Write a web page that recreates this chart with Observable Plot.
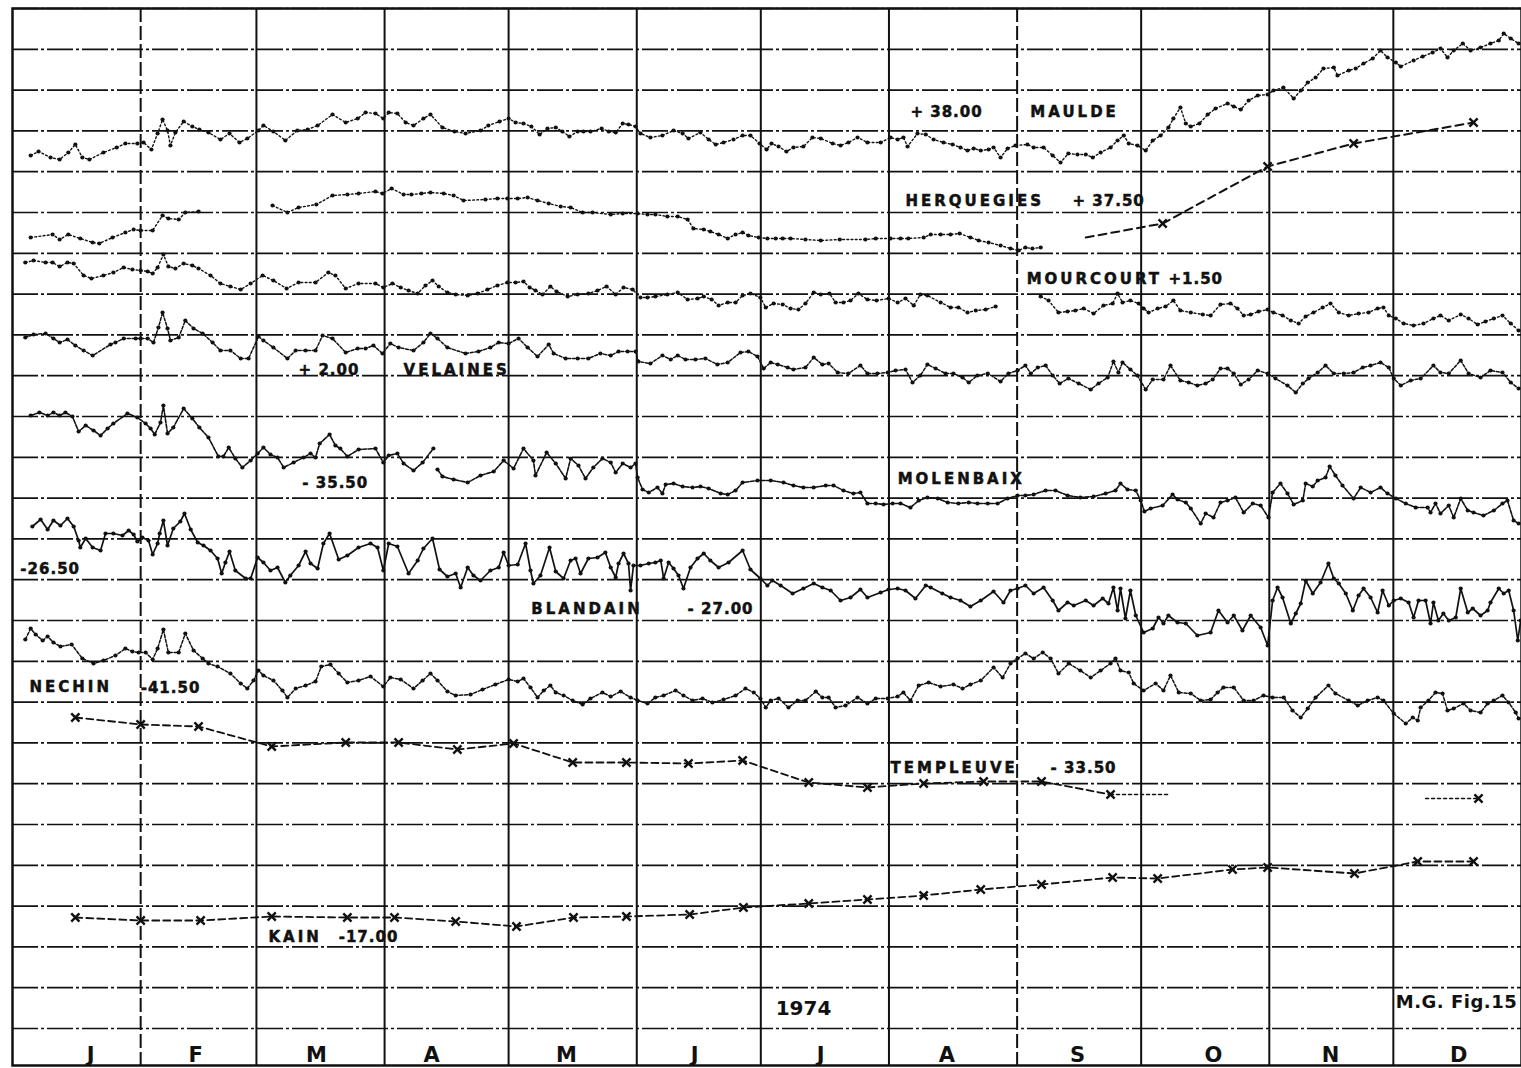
<!DOCTYPE html>
<html><head><meta charset="utf-8">
<script src="https://cdn.jsdelivr.net/npm/d3@7"></script>
<script src="https://cdn.jsdelivr.net/npm/@observablehq/plot@0.6"></script>
<style>body{margin:0;background:#fff}#chart svg{display:block}</style>
</head><body><div id="chart"></div>
<script>
// day of year 1974 (0 = 1 Jan), level in chart units (one grid row = 40.8)
const maulde = [[4.4,873],[6.3,877],[9.2,871],[11.4,869],[13.5,876],[15.2,884],[16.9,871],[18.6,869],[22,876],[25.2,881],[27.3,885],[30.2,885],[31.7,886],[33.6,879],[35.1,895],[36.3,909],[37.5,898],[38.2,883],[39.4,896],[41.4,907],[43.5,902],[45.2,899],[47.4,896],[50.3,889],[52.5,895],[54.9,886],[56.8,890],[59.5,898],[60.7,903],[63.1,897],[66,888],[68.9,898],[71.4,899],[73.8,903],[77.4,914],[80.6,906],[83.5,910],[85.4,916],[87.8,915],[89.7,910],[91,916],[93.1,915],[95.1,906],[97,903],[99.4,910],[101.1,914],[104,901],[106.9,897],[109.6,895],[113.2,898],[115.1,903],[117.8,907],[120,910],[121.7,906],[123.6,905],[125.5,902],[127.5,894],[129.4,900],[131.4,901],[133,897],[134.7,892],[136.7,897],[138.1,897],[139.8,897],[142.5,900],[144.2,897],[145.9,896],[147.6,905],[149,904],[150.7,902],[151.9,895],[154.3,891],[157.2,893],[159.9,898],[162.1,895],[163.5,890],[166.4,896],[168.4,889],[170.1,884],[172,886],[174.4,889],[176.6,893],[178.5,893],[180.7,885],[182.4,879],[183.6,885],[185.3,882],[187.2,877],[188.9,881],[191.3,882],[193.5,891],[195.5,890],[198.4,885],[200.3,883],[202.2,886],[204.4,891],[206.8,886],[210,886],[212.4,891],[214.1,889],[215.5,891],[216.5,882],[218.9,895],[220.9,894],[222.8,889],[225.2,886],[227.4,884],[229.3,881],[231,878],[232.5,880],[234.2,878],[236.1,879],[237.3,881],[239,871],[240.7,880],[242.6,883],[245.5,884],[247,881],[249.4,881],[251.6,873],[253.5,866],[255.4,875],[257.6,874],[259.6,874],[261.3,871],[263.2,876],[265.6,881],[267.3,888],[268.8,893],[270,885],[272.1,883],[274.1,878],[275.8,888],[277.7,893],[279.6,901],[280.8,910],[282.5,921],[283.8,905],[285,902],[287.1,905],[289.1,914],[291,920],[293.9,925],[295.4,922],[297.1,919],[299,928],[301.2,933],[303.6,934],[305,938],[307.4,941],[309.9,930],[311.6,938],[313.3,946],[315.2,951],[317.1,960],[319.6,961],[320.5,953],[323.2,958],[324.9,960],[326.8,965],[329,970],[330.9,978],[332.6,971],[334.6,966],[335.8,962],[338.9,968],[341.1,972],[343.5,976],[345.4,980],[347.1,971],[348.6,978],[350.8,985],[352.7,978],[355.1,981],[357.5,985],[359.5,988],[360.7,995],[362.4,990],[364.3,985]];

const herquegies = [[4.4,791],[9.7,794],[11.4,789],[13.5,794],[16.4,790],[19.4,786],[21,785],[24.2,791],[27.3,796],[29.3,799],[31,798],[33.9,798],[36.3,813],[37.7,810],[40.2,809],[41.8,816],[45,817],[52,null],[62.9,823],[66.5,816],[69.2,821],[73.5,824],[77.4,833],[81,834],[83.7,835],[87.8,837],[89.5,835],[91.7,840],[94.6,834],[96.5,834],[98.9,835],[101.1,836],[104.3,835],[106.7,833],[109.1,828],[114.4,829],[117.3,830],[119.7,830],[122.2,830],[124.6,831],[127,828],[129.7,825],[132.6,822],[135,821],[137.9,816],[140.3,816],[144.7,814],[147.6,815],[151.2,815],[153.6,814],[155.5,814],[158.4,812],[160.9,812],[163.3,809],[164.7,800],[167.2,799],[168.8,797],[170.8,794],[173,790],[174.9,794],[176.6,796],[178,793],[180.5,791],[182.6,790],[184.6,790],[186.3,790],[188.2,790],[191.8,789],[195.5,788],[200.1,789],[206.3,789],[208.8,790],[212.4,790],[214.8,790],[216.7,790],[220.4,791],[222.1,794],[224.5,794],[226.9,794],[229.1,795],[231.7,791],[233.7,788],[236.1,786],[239,783],[241.4,780],[243.4,778],[245,781],[246.7,780],[248.7,781]];
const herquegiesWeekly = [[259.6,791],[278.2,805],[303.6,862],[324.4,885],[353.4,906]];

const mourcourt = [[3.1,766],[5.1,768],[8,766],[9.7,766],[11.4,762],[13.3,766],[14.8,765],[17.2,753],[19.1,750],[22,753],[24.4,756],[26.9,761],[29,759],[31,758],[32.7,757],[33.9,755],[35.1,761],[36.5,774],[37.7,762],[39.4,760],[41.4,765],[43.5,763],[45,760],[47.9,753],[50.3,745],[52.7,742],[55.2,739],[57.6,745],[60.5,753],[63.1,748],[66.3,740],[69.2,746],[73.3,746],[76.4,756],[78.1,753],[80.6,740],[83.7,745],[87.8,745],[89.7,741],[91.9,745],[93.9,741],[95.8,738],[98,735],[99.9,743],[101.6,748],[103.1,742],[105.2,736],[107.2,734],[110.1,733],[112.5,735],[114.9,739],[117.3,743],[119.7,746],[121.7,746],[123.6,747],[125.1,741],[126.5,738],[128.2,734],[130.1,742],[131.6,737],[134.3,732],[136.7,734],[139.3,735],[141.5,738],[143.7,742],[145.9,734],[147.8,741],[150,739],[151.9,731],[153.6,731],[155.5,732],[158.4,734],[160.9,736],[163.3,729],[165.7,730],[167.2,732],[169.1,729],[170.8,723],[173,726],[174.9,726],[176.6,733],[178.5,735],[180.9,731],[182.2,721],[184.1,725],[186.3,724],[188.2,720],[190.1,719],[191.8,725],[193.8,736],[195.5,734],[197.6,735],[199.1,726],[201,726],[202.7,728],[204.6,735],[206.8,729],[209,728],[211.9,730],[214.1,726],[216,730],[218,723],[219.6,734],[221.3,733],[224.5,726],[226.9,721],[228.8,721],[231,716],[233,718],[235.4,719],[237.8,722],[243,null],[248.7,732],[250.6,728],[253,716],[255.2,717],[257.1,718],[259.1,720],[261.5,715],[263.9,723],[266.1,725],[267.3,735],[268.5,726],[270.4,728],[272.4,725],[273.6,720],[274.8,716],[277,720],[278.9,722],[280.8,728],[282.5,718],[285,716],[287.9,714],[289.8,713],[292.2,724],[294.6,725],[296.3,720],[297.8,713],[299.5,714],[301.4,717],[303.6,719],[305,716],[307.2,713],[309.2,708],[311.1,705],[312.8,712],[314.7,716],[316.9,721],[318.8,725],[320.8,716],[323.2,713],[325.6,715],[328,716],[330.2,720],[331.6,721],[332.9,713],[334.6,710],[336.5,705],[338.9,703],[341.3,705],[343.7,710],[345.4,713],[347.4,708],[350.3,714],[352.2,710],[354.4,704],[356.3,707],[358.3,710],[360.4,713],[362.4,705],[364.3,698]];

const velaines = [[3.1,691],[5.1,694],[8,695],[9.9,690],[11.4,686],[13.3,689],[15.2,683],[17.2,678],[19.4,673],[23.7,684],[24.9,686],[26.9,690],[29.8,690],[31,690],[32.7,690],[34.1,686],[35.3,701],[36.3,716],[37.5,700],[38.2,688],[40.2,691],[41.8,708],[43.8,700],[46,695],[48.4,686],[50.3,678],[52.7,678],[55.2,670],[57.1,670],[59.5,692],[60.7,688],[63.1,681],[66.5,670],[68.5,678],[70.9,678],[73.3,678],[75,693],[77.4,690],[80.6,676],[83.5,680],[85.4,680],[87.3,683],[89.5,675],[91.4,685],[93.4,681],[97,678],[99.4,686],[101.1,695],[102.8,690],[105.2,681],[109.6,675],[112.7,677],[115.6,681],[117.6,686],[120,685],[122.4,690],[124.6,681],[127,672],[129.7,684],[130.9,675],[133.8,670],[136.7,670],[139.3,670],[142.2,675],[144.7,673],[146.6,677],[148.8,677],[150.7,677],[151.4,667],[154.3,665],[157.2,673],[159.2,669],[160.9,673],[162.8,669],[165.2,669],[167.6,670],[170.5,664],[173,666],[176.1,676],[178,677],[180.2,672],[181.7,660],[183.4,666],[185.1,664],[187.5,661],[188.9,659],[191.8,661],[193.8,671],[195.9,664],[197.4,665],[199.6,656],[202.2,655],[205.1,663],[206.8,655],[209.2,655],[211.7,656],[213.6,658],[216,659],[217.7,646],[219.6,653],[221.3,664],[223.3,660],[225.7,655],[227.6,655],[229.8,651],[231.3,646],[233.4,653],[235.9,655],[239,647],[240.9,655],[243.1,658],[245,663],[246.3,655],[248,661],[249.9,663],[251.6,653],[253.3,645],[255.4,650],[257.9,645],[260.8,639],[262.7,645],[264.9,651],[266.3,667],[267.5,656],[268.5,666],[270.4,659],[272.1,653],[274.1,639],[275.8,649],[278.4,649],[280.1,663],[282.5,648],[284.5,646],[286.6,643],[288.6,645],[290.3,649],[292.2,660],[293.9,660],[295.4,655],[297.1,644],[299,649],[301.2,658],[303.6,655],[305.5,650],[308.4,643],[310.4,636],[312.1,645],[313.5,650],[315.7,656],[317.6,663],[319.6,655],[322,655],[324.4,656],[326.6,661],[328.5,663],[330.9,666],[332.9,661],[334.1,650],[335.8,643],[338.2,648],[340.6,650],[343.7,663],[345.4,656],[347.4,655],[350.3,668],[352.2,655],[355.1,651],[357.5,658],[360.4,656],[362.4,646],[364.3,640]];

const molenbaix = [[4.4,613],[6.5,616],[8.5,613],[9.9,616],[11.4,613],[12.8,616],[14.5,612],[16,597],[17.7,603],[19.6,598],[21.3,593],[23,600],[24.4,605],[27.8,615],[30.2,611],[32.2,605],[33.4,600],[34.4,594],[35.8,606],[36.5,623],[37.5,595],[38.9,601],[41.4,620],[43.5,610],[45.2,601],[47.4,591],[49.8,572],[51,572],[52.3,581],[53.9,570],[55.6,561],[57.6,568],[59.3,575],[60.7,581],[62.4,574],[64.1,571],[65.6,561],[68,566],[70.4,571],[72.1,575],[73.3,571],[74.3,585],[76.7,594],[78.1,583],[79.3,580],[81,572],[83.7,579],[87.8,580],[89.7,566],[91,573],[93.1,575],[94.6,565],[97,558],[99.2,566],[101.8,580],[102.3,null],[102.8,559],[104,552],[106.7,549],[110.1,546],[113.2,553],[116.4,557],[118.8,568],[121.2,560],[123.6,580],[126,568],[126.5,553],[129.2,576],[131.4,565],[133.8,550],[135,570],[136.9,563],[138.6,550],[140.5,561],[142.7,570],[144.7,566],[145.9,556],[147.6,565],[149.5,561],[150.7,565],[151.2,551],[152.4,539],[153.9,536],[156,541],[157.2,535],[158,544],[159.9,545],[162.1,542],[164.5,541],[166.4,542],[168.4,540],[171.3,535],[173,534],[174.9,538],[176.6,546],[180.2,548],[183.4,548],[186.5,546],[188.9,543],[191.3,541],[193.8,541],[196.7,543],[198.6,543],[201,538],[203.4,535],[205.1,536],[206.8,525],[208.8,525],[210.7,524],[212.9,525],[214.8,525],[217.2,521],[219.2,528],[221.3,531],[223.8,530],[226.2,526],[228.8,525],[231.3,526],[233.4,525],[235.9,525],[238.3,525],[240.7,530],[243.1,533],[245,533],[247,534],[249.9,538],[252.3,538],[255.2,533],[258.3,531],[261.5,532],[264.4,535],[266.8,538],[268,545],[269.7,539],[271.7,538],[272.9,528],[273.8,517],[275.3,520],[278.2,523],[280.6,534],[281.8,529],[283.8,526],[285,520],[287.4,505],[288.6,515],[290.5,511],[292.2,526],[293.9,528],[295.8,531],[297.8,516],[300,525],[301.9,523],[303.8,511],[304.8,536],[306.7,545],[308.4,535],[309.9,524],[312.1,528],[312.8,545],[314.5,542],[315.7,548],[317.6,551],[318.6,562],[320,553],[321.7,543],[324.4,530],[326.1,541],[328.5,536],[330.9,541],[332.6,535],[334.6,530],[337,525],[339.4,521],[342.3,521],[343,516],[344.2,525],[345.4,515],[347.4,523],[348.6,511],[350.3,530],[352,518],[353.4,516],[355.8,513],[358.3,518],[360.4,525],[361.6,528],[363.1,508],[364.3,505]];

const blandain = [[4.8,502],[6.8,509],[8.5,499],[9.9,508],[11.6,503],[13.3,510],[14.8,502],[16,488],[16.4,481],[17.7,490],[19.4,481],[21.3,478],[22.5,495],[24.4,495],[26.6,493],[28.1,498],[29.3,494],[30.2,487],[31.4,491],[32.9,488],[33.9,474],[35.1,485],[35.6,495],[36.5,508],[37.5,483],[38.9,500],[40.6,507],[41.6,515],[43.1,499],[44.8,486],[46.2,483],[47.9,478],[49.6,470],[50.6,455],[51.5,466],[52.5,477],[53.9,458],[56.4,450],[57.6,450],[59.3,471],[60.7,466],[62.4,458],[64.1,461],[66,446],[67.2,453],[69.2,463],[70.9,477],[72.1,465],[73.8,460],[75.2,485],[76.7,495],[78.9,469],[81,473],[83.7,481],[86.6,485],[88.3,481],[89.7,458],[91,485],[93.1,482],[95.8,455],[98,468],[99.4,480],[101.6,490],[103.3,459],[105.2,452],[107.2,455],[108.4,441],[110.1,461],[111.5,453],[113.2,448],[115.6,458],[117.6,461],[118.8,476],[120,463],[122.2,464],[124.1,485],[125.3,458],[126,445],[127.7,453],[129.9,481],[131.4,457],[133.3,450],[135,468],[136.2,470],[137.4,455],[139.3,470],[141.5,471],[143.4,476],[144.7,461],[145.9,451],[146.6,465],[147.8,475],[149,465],[149.5,438],[150.2,463],[151.9,463],[153.9,465],[155.5,466],[156.8,468],[157.5,450],[158.7,466],[159.9,460],[161.1,453],[162.3,440],[164,461],[165.7,470],[167.2,475],[168.8,468],[170.8,461],[173.2,466],[176.6,478],[178.5,459],[180.9,450],[182.6,443],[183.8,448],[185.8,443],[188.7,435],[191.3,440],[193.8,445],[195.9,441],[197.9,438],[200.3,428],[202.7,431],[205.1,439],[206.8,431],[210,436],[211.9,439],[214.1,440],[216,438],[218.4,430],[220.9,443],[222.1,441],[224.9,435],[226.9,431],[229.3,428],[231.7,422],[234.2,428],[237.3,437],[239.7,426],[241.4,438],[243.1,440],[245,443],[247,435],[249.4,441],[251.6,428],[253,418],[255.2,426],[256.7,423],[259.6,428],[261.5,423],[263.7,430],[265.1,425],[266.3,441],[267.3,418],[268,440],[269.2,410],[270.4,438],[271.7,413],[273.6,396],[275.8,400],[277.2,411],[278.4,405],[279.6,413],[281.8,406],[283.8,405],[286.6,393],[289.8,396],[291.7,418],[293.9,406],[295.4,413],[297.5,398],[299.5,413],[301.9,401],[303.6,383],[304.8,428],[306,441],[307.2,431],[309.2,405],[310.4,415],[311.6,425],[312.8,448],[314.5,435],[316.4,446],[318.3,465],[319.6,450],[320.8,445],[322.5,435],[324.2,418],[325.6,433],[326.8,440],[328.5,431],[330.2,416],[331.4,438],[332.9,423],[334.1,428],[335.8,430],[337.7,426],[338.9,411],[340.1,428],[341.8,428],[343,405],[343.7,426],[344.9,408],[346.1,415],[347.4,408],[349.1,411],[350.3,440],[352,416],[353.2,420],[355.1,413],[356.8,418],[357.5,426],[359.5,440],[360.7,435],[361.9,438],[363.1,418],[364.1,388],[364.8,408]];

const nechin = [[3.1,389],[4.4,400],[5.6,394],[7.3,388],[8.5,392],[9.9,386],[11.6,382],[14.3,384],[16.9,370],[19.6,365],[22,368],[24.9,373],[27.3,380],[29,377],[30.5,376],[32.2,376],[33.9,369],[35.1,380],[36.5,399],[37.7,376],[40.2,376],[41.8,395],[43.8,378],[46,370],[47.4,365],[49.6,362],[52.7,355],[55.2,345],[56.8,340],[58.3,348],[59.5,358],[60.7,353],[63.1,348],[65.3,338],[66.5,331],[68.5,340],[70.9,343],[73.3,347],[74.7,362],[76.9,364],[78.9,355],[81,346],[83.7,348],[86.6,352],[89.7,342],[91.4,351],[93.9,349],[97,340],[99.2,348],[101.1,355],[102.8,348],[105.2,337],[107.2,333],[110.8,334],[113.7,339],[116.8,344],[120,349],[122.2,347],[123.6,350],[125.3,341],[127,331],[128.5,338],[130.1,343],[131.4,336],[133.3,333],[135.5,328],[137.9,324],[139.8,330],[142.7,336],[144.7,332],[147.1,337],[149.5,331],[151.2,328],[153.6,325],[155.5,331],[157.5,333],[160.4,338],[162.3,333],[164.5,328],[166.9,330],[169.3,326],[172,329],[174.9,333],[177.3,340],[179.3,336],[180.9,330],[182.2,321],[183.4,328],[185.3,330],[187.7,321],[189.9,328],[191.8,328],[194.3,337],[195.9,331],[197.4,331],[199.1,321],[201.5,323],[204.4,331],[206.8,325],[208.8,330],[211.7,330],[214.1,332],[215.5,336],[217.2,328],[219.2,343],[221.6,346],[224.5,342],[227.6,344],[229.8,340],[231.7,344],[234.2,348],[237.3,361],[239.5,351],[241.4,365],[243.1,370],[245,375],[247,370],[249.2,376],[251.1,370],[253,355],[255.5,365],[258.3,358],[260.8,351],[263.2,358],[265.6,365],[266.8,370],[268,358],[270,356],[271.2,345],[273.6,338],[276.5,345],[278.4,338],[280.1,353],[282.1,336],[285,335],[287.4,328],[289.8,329],[291.5,336],[292.9,341],[295.4,341],[297.8,328],[300.2,328],[302.6,333],[304.8,331],[307.5,331],[309.6,318],[311.6,311],[313.3,320],[315.2,331],[318.3,343],[320,335],[323.2,328],[325.4,323],[327.8,328],[330.2,331],[331.6,328],[334.1,315],[337,305],[338.7,311],[339.9,308],[340.6,321],[342.5,328],[344.2,336],[345.9,335],[347.1,318],[348.6,320],[351,325],[352.7,318],[355.1,316],[356.8,325],[358.3,328],[360.4,333],[361.9,326],[363.6,316],[364.3,310]];

const templeuve = [[15.2,311],[31,304],[45,302],[62.7,282],[80.6,286],[93.4,286],[107.6,279],[121.2,285],[135.5,266],[148.5,266],[163.5,265],[176.6,268],[192.6,246],[206.8,241],[220.4,245],[234.9,247],[248.9,247],[265.6,234]];
const templeuveTail = [[265.6,234],[279.9,234]];
const templeuveDec = [[341.8,230],[354.6,230]];

const kain = [[15.2,111],[31,108],[45.5,108],[62.7,112],[81,111],[92.4,111],[107.2,107],[121.9,102],[135.7,111],[148.5,112],[163.8,114],[176.8,121],[192.6,125],[206.8,129],[220.4,133],[234.2,139],[248.9,144],[266.1,151],[277,150],[295.1,159],[303.6,161],[324.6,155],[339.9,167],[353.4,167]];

const monthStarts = [31,59,90,120,151,181,212,243,273,304,334];
const dashedMonthStarts = [31,243];
const monthLetters = ["J","F","M","A","M","J","J","A","S","O","N","D"];
const monthLabelDays = [18.9,44.3,73.5,101.4,134,165,195.5,226,257.6,290.5,318.8,349.8];
const gridLevels = d3.range(26).map(k => k * 40.8);

const stationLabels = [
  {text:"+ 38.00", day:217.2, level:916},
  {text:"MAULDE", day:246.2, level:916},
  {text:"HERQUEGIES", day:216.0, level:827},
  {text:"+ 37.50", day:256.4, level:827},
  {text:"MOURCOURT", day:245.3, level:749},
  {text:"+1.50", day:279.6, level:749},
  {text:"+ 2.00", day:69.2, level:658},
  {text:"VELAINES", day:94.6, level:658},
  {text:"- 35.50", day:70.1, level:545},
  {text:"MOLENBAIX", day:214.1, level:549},
  {text:"-26.50", day:1.9, level:459},
  {text:"BLANDAIN", day:125.5, level:419},
  {text:"- 27.00", day:163.3, level:419},
  {text:"NECHIN", day:4.1, level:341},
  {text:"-41.50", day:31.0, level:340},
  {text:"TEMPLEUVE", day:212.4, level:260},
  {text:"- 33.50", day:251.1, level:260},
  {text:"KAIN", day:61.9, level:91},
  {text:"-17.00", day:78.9, level:91}
];

const X = d => d[0], Y = d => d[1];
const ink = "#111";
const daily = [
  {data: maulde, dash: "1.8,2.4", w: 1.4},
  {data: herquegies, dash: "1.8,2.4", w: 1.4},
  {data: mourcourt, dash: "1.8,2.4", w: 1.4},
  {data: velaines, dash: "2.8,1.8", w: 1.5},
  {data: molenbaix, dash: "4,1.5", w: 1.6},
  {data: blandain, dash: null, w: 1.7},
  {data: nechin, dash: "3,1.8", w: 1.5}
];

const marks = [
  Plot.ruleY(gridLevels, {stroke: ink, strokeWidth: 1.7, strokeDasharray: "26,3,3,3"}),
  Plot.ruleX(monthStarts.filter(d => !dashedMonthStarts.includes(d)), {stroke: ink, strokeWidth: 2}),
  Plot.ruleX(dashedMonthStarts, {stroke: ink, strokeWidth: 2, strokeDasharray: "14,4"}),
  Plot.frame({stroke: ink, strokeWidth: 2.5})
];
for (const s of daily) {
  marks.push(Plot.line(s.data, {x: X, y: Y, stroke: ink, strokeWidth: s.w, strokeDasharray: s.dash || undefined}));
  marks.push(Plot.dot(s.data, {x: X, y: Y, r: 2.1, fill: ink, stroke: "none"}));
}
marks.push(
  Plot.line(herquegiesWeekly, {x: X, y: Y, stroke: ink, strokeWidth: 2, strokeDasharray: "8,5"}),
  Plot.dot(herquegiesWeekly.slice(1), {x: X, y: Y, symbol: "times", r: 3.8, stroke: ink, strokeWidth: 2.4}),
  Plot.line(templeuve, {x: X, y: Y, stroke: ink, strokeWidth: 1.8, strokeDasharray: "7,4"}),
  Plot.line(templeuveTail, {x: X, y: Y, stroke: ink, strokeWidth: 1.5, strokeDasharray: "3,3"}),
  Plot.line(templeuveDec, {x: X, y: Y, stroke: ink, strokeWidth: 1.5, strokeDasharray: "3,3"}),
  Plot.dot(templeuve, {x: X, y: Y, symbol: "times", r: 3.8, stroke: ink, strokeWidth: 2.4}),
  Plot.dot(templeuveDec.slice(1), {x: X, y: Y, symbol: "times", r: 3.8, stroke: ink, strokeWidth: 2.4}),
  Plot.line(kain, {x: X, y: Y, stroke: ink, strokeWidth: 1.8, strokeDasharray: "7,4"}),
  Plot.dot(kain, {x: X, y: Y, symbol: "times", r: 3.8, stroke: ink, strokeWidth: 2.4}),
  Plot.text(stationLabels, {x: "day", y: "level", text: "text", textAnchor: "start", lineAnchor: "middle", fontSize: 15, fontWeight: "bold", fill: ink, stroke: ink, strokeWidth: 0.5}),
  Plot.text(monthLetters, {x: (d, i) => monthLabelDays[i], y: () => -27, text: d => d, textAnchor: "middle", lineAnchor: "middle", fontSize: 21, fontWeight: "bold", fill: ink}),
  Plot.text(["1974"], {x: () => 184.6, y: () => 20, text: d => d, textAnchor: "start", lineAnchor: "middle", fontSize: 20, fontWeight: "bold", fill: ink}),
  Plot.text(["M.G. Fig.15"], {x: () => 334.6, y: () => 26, text: d => d, textAnchor: "start", lineAnchor: "middle", fontSize: 18, fontWeight: "bold", fill: ink})
);

const chart = Plot.plot({
  width: 1521,
  height: 1068,
  marginTop: 8,
  marginBottom: 3,
  marginLeft: 12,
  marginRight: 0,
  x: {domain: [0, 365], axis: null},
  y: {domain: [-37, 1020], axis: null},
  style: {fontFamily: "DejaVu Sans", background: "#fff", color: ink, overflow: "visible"},
  marks
});
d3.select(chart).selectAll("text").each(function () {
  const t = this.textContent;
  if (/^[A-Z]{3,}$/.test(t)) this.setAttribute("letter-spacing", "3");
  else if (t === "M.G. Fig.15") this.setAttribute("letter-spacing", "0.5");
  else if (/\d/.test(t) && t !== "1974") this.setAttribute("letter-spacing", "1");
});
document.getElementById("chart").append(chart);
</script>
</body></html>
